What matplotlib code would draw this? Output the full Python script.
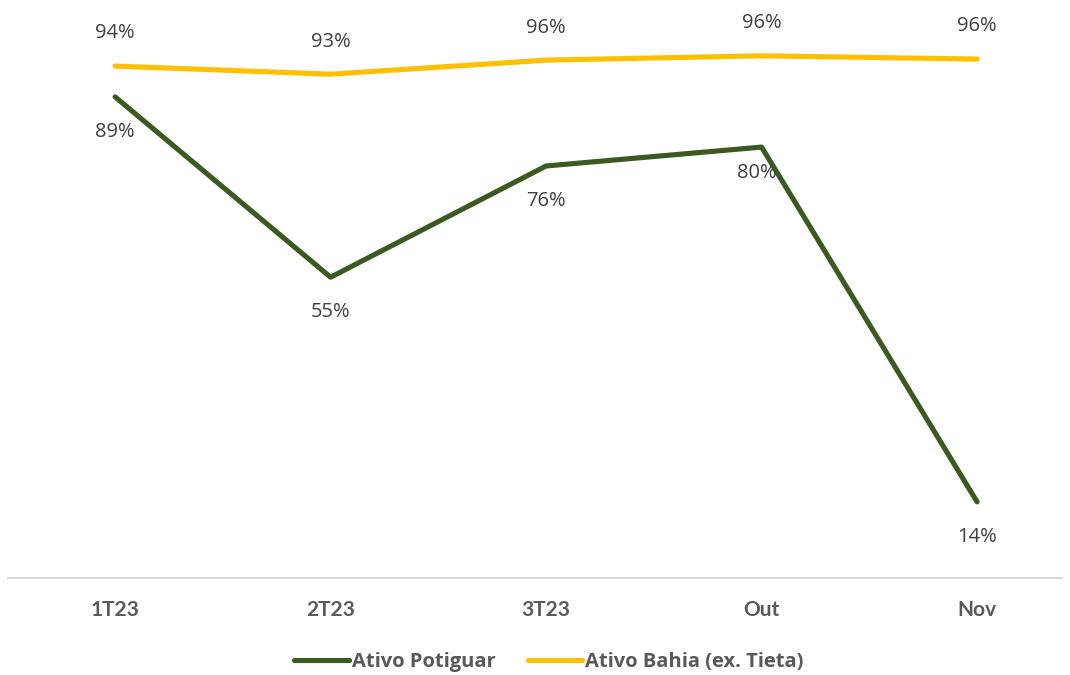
import matplotlib
matplotlib.use("Agg")
import matplotlib.pyplot as plt

categories = ["1T23", "2T23", "3T23", "Out", "Nov"]
potiguar = [0.891, 0.557, 0.763, 0.798, 0.141]
bahia = [0.948, 0.933, 0.959, 0.967, 0.961]
potiguar_labels = ["89%", "55%", "76%", "80%", "14%"]
bahia_labels = ["94%", "93%", "96%", "96%", "96%"]

plt.rcParams['font.family'] = ['Open Sans', 'DejaVu Sans']

fig = plt.figure(figsize=(10.7, 6.75), dpi=100)
ax = fig.add_axes([8/1070, (675-578)/675, (1062-8)/1070, 540/675])
x = list(range(len(categories)))

green = "#3A5A22"
yellow = "#FFC000"
ax.plot(x, potiguar, color=green, lw=3.7, solid_capstyle='round', label="Ativo Potiguar")
ax.plot(x, bahia, color=yellow, lw=3.7, solid_capstyle='round', label="Ativo Bahia (ex. Tieta)")

ax.set_xlim(-0.497, 4.394)
ax.set_ylim(0, 1.0)

for i, (v, t) in enumerate(zip(bahia, bahia_labels)):
    ax.annotate(t, (i, v), xytext=(0, 23.5), textcoords='offset points', ha='center', va='center',
                fontsize=14.5, color="#404040", annotation_clip=False)
for i, (v, t) in enumerate(zip(potiguar, potiguar_labels)):
    dx, dy = (0, -25)
    if i == 3:
        dx, dy = (-3.5, -19)
    ax.annotate(t, (i, v), xytext=(dx, dy), textcoords='offset points', ha='center', va='center',
                fontsize=14.5, color="#404040", annotation_clip=False)

for s in ['top', 'right', 'left']:
    ax.spines[s].set_visible(False)
ax.spines['bottom'].set_color("#D9D9D9")
ax.spines['bottom'].set_linewidth(1.5)
ax.set_yticks([])
ax.set_xticks(x)
ax.set_xticklabels(categories, fontsize=15, fontweight='bold', color="#595959", family=['Lato', 'DejaVu Sans'])
ax.tick_params(axis='x', length=0, pad=16)

fig.legend(loc='center', bbox_to_anchor=(549/1070, 1 - 662/675), ncol=2, frameon=False,
           prop={'size': 14.5, 'weight': 'bold', 'family': ['Open Sans', 'DejaVu Sans']}, labelcolor="#595959",
           handlelength=2.7, handletextpad=0.15, columnspacing=1.6)

fig.savefig("out.png", dpi=100)
